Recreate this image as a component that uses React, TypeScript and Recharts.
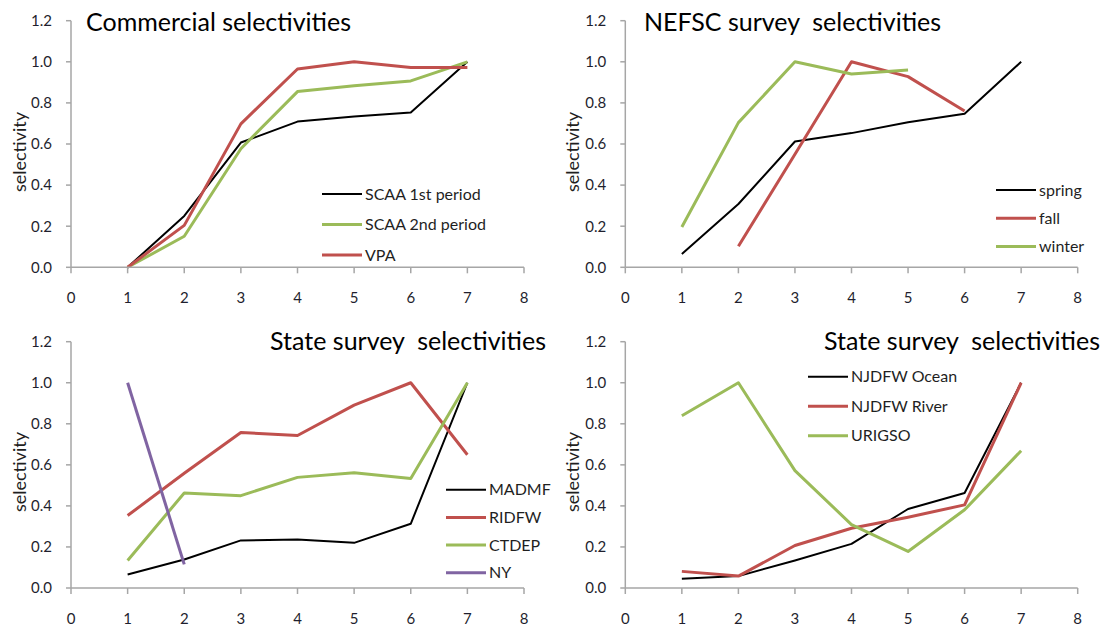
import { LineChart, Line, XAxis, YAxis } from "recharts";

// ages on the x axis and the tick sets shared by all four panels
const ages = [1, 2, 3, 4, 5, 6, 7];
const xTicks = [0, 1, 2, 3, 4, 5, 6, 7, 8];
const yTicks = [0, 0.2, 0.4, 0.6, 0.8, 1.0, 1.2];

// commercial fishery
const scaaFirst = [0, 0.25, 0.607, 0.709, 0.734, 0.753, 1.0];
const scaaSecond = [0, 0.151, 0.577, 0.855, 0.883, 0.907, 1.0];
const vpa = [0, 0.204, 0.698, 0.965, 1.0, 0.972, 0.972];

// NEFSC surveys
const spring = [0.065, 0.308, 0.612, 0.653, 0.706, 0.747, 1.0];
const fall = [null, 0.102, 0.55, 1.0, 0.928, 0.761, null];
const winter = [0.196, 0.704, 1.0, 0.941, 0.96, null, null];

// state surveys (north)
const madmf = [0.066, 0.139, 0.232, 0.236, 0.22, 0.313, 1.0];
const ridfw = [0.353, 0.559, 0.758, 0.743, 0.891, 1.0, 0.649];
const ctdep = [0.134, 0.463, 0.45, 0.539, 0.562, 0.533, 1.0];
const ny = [1.0, 0.115, null, null, null, null, null];

// state surveys (south)
const njOcean = [0.045, 0.058, 0.134, 0.215, 0.385, 0.463, 1.0];
const njRiver = [0.081, 0.058, 0.207, 0.291, 0.345, 0.405, 1.0];
const urigso = [0.839, 1.0, 0.572, 0.309, 0.178, 0.381, 0.669];

const BLACK = "#000000";
const RED = "#c0504d";
const GREEN = "#9bbb59";
const PURPLE = "#8064a2";
const AXIS = "#a6a6a6";
const FONT = "Lato, 'Open Sans', sans-serif";

type Series = { key: string; name: string; color: string; width: number; values: (number | null)[] };

type PanelSpec = {
  left: number;
  top: number;
  yWidth: number;
  marginTop: number;
  marginRight: number;
  xHeight: number;
  title: string;
  titleX: number;
  titleY: number;
  titleAnchor: "start" | "end";
  yLabelY: number;
  legendX: number;
  legendY: number;
  legendGap: number;
  series: Series[];
};

const panels: PanelSpec[] = [
  {
    left: 0, top: 0, yWidth: 71, marginTop: 20.7, marginRight: 29, xHeight: 46.7,
    title: "Commercial selectivities", titleX: 86, titleY: 30.7, titleAnchor: "start",
    yLabelY: 152, legendX: 322, legendY: 194, legendGap: 30.5,
    series: [
      { key: "scaa1", name: "SCAA 1st period", color: BLACK, width: 2, values: scaaFirst },
      { key: "scaa2", name: "SCAA 2nd period", color: GREEN, width: 3, values: scaaSecond },
      { key: "vpa", name: "VPA", color: RED, width: 3, values: vpa },
    ],
  },
  {
    left: 553, top: 0, yWidth: 72.3, marginTop: 20.7, marginRight: 28.3, xHeight: 46.7,
    title: "NEFSC survey  selectivities", titleX: 91, titleY: 30.5, titleAnchor: "start",
    yLabelY: 152, legendX: 443, legendY: 190, legendGap: 28.3,
    series: [
      { key: "spring", name: "spring", color: BLACK, width: 2, values: spring },
      { key: "fall", name: "fall", color: RED, width: 3, values: fall },
      { key: "winter", name: "winter", color: GREEN, width: 3, values: winter },
    ],
  },
  {
    left: 0, top: 314, yWidth: 71, marginTop: 27.7, marginRight: 29, xHeight: 40,
    title: "State survey  selectivities", titleX: 546, titleY: 35.7, titleAnchor: "end",
    yLabelY: 158, legendX: 446, legendY: 175.7, legendGap: 27.7,
    series: [
      { key: "madmf", name: "MADMF", color: BLACK, width: 2, values: madmf },
      { key: "ridfw", name: "RIDFW", color: RED, width: 3, values: ridfw },
      { key: "ctdep", name: "CTDEP", color: GREEN, width: 3, values: ctdep },
      { key: "ny", name: "NY", color: PURPLE, width: 3, values: ny },
    ],
  },
  {
    left: 553, top: 314, yWidth: 72.3, marginTop: 27.7, marginRight: 28.3, xHeight: 40,
    title: "State survey  selectivities", titleX: 547, titleY: 35.7, titleAnchor: "end",
    yLabelY: 158, legendX: 255, legendY: 62.7, legendGap: 29.5,
    series: [
      { key: "njOcean", name: "NJDFW Ocean", color: BLACK, width: 2, values: njOcean },
      { key: "njRiver", name: "NJDFW River", color: RED, width: 3, values: njRiver },
      { key: "urigso", name: "URIGSO", color: GREEN, width: 3, values: urigso },
    ],
  },
];

function Panel({ p }: { p: PanelSpec }) {
  const data = ages.map((age, i) => {
    const row: Record<string, number | null> = { age };
    p.series.forEach((s) => {
      row[s.key] = s.values[i];
    });
    return row;
  });

  return (
    <div style={{ position: "absolute", left: p.left, top: p.top, width: 553, height: 314 }}>
      <LineChart
        width={553}
        height={314}
        data={data}
        margin={{ top: p.marginTop, right: p.marginRight, bottom: 0, left: 0 }}
      >
        <XAxis
          dataKey="age"
          type="number"
          domain={[0, 8]}
          ticks={xTicks}
          interval={0}
          height={p.xHeight}
          stroke={AXIS}
          strokeWidth={1.5}
          tickSize={6}
          tickMargin={19}
          tick={{ fill: "#1f1f2e", fontSize: 15, fontFamily: FONT }}
        />
        <YAxis
          type="number"
          domain={[0, 1.2]}
          ticks={yTicks}
          interval={0}
          width={p.yWidth}
          stroke={AXIS}
          strokeWidth={1.5}
          tickSize={5}
          tickMargin={14}
          tickFormatter={(v: number) => v.toFixed(1)}
          tick={{ fill: "#1f1f2e", fontSize: 15, fontFamily: FONT }}
        />
        {p.series.map((s) => (
          <Line
            key={s.key}
            dataKey={s.key}
            name={s.name}
            stroke={s.color}
            strokeWidth={s.width}
            strokeLinejoin="round"
            dot={false}
            activeDot={false}
            isAnimationActive={false}
          />
        ))}
      </LineChart>
      <svg
        width={553}
        height={314}
        style={{ position: "absolute", left: 0, top: 0, pointerEvents: "none" }}
      >
        <text
          x={p.titleX}
          y={p.titleY}
          textAnchor={p.titleAnchor}
          fontFamily={FONT}
          fontSize={25}
          fill="#000"
          style={{ whiteSpace: "pre" }}
        >
          {p.title}
        </text>
        <text
          transform={`translate(26, ${p.yLabelY}) rotate(-90)`}
          textAnchor="middle"
          fontFamily={FONT}
          fontSize={18}
          fill="#1f1f1f"
        >
          selectivity
        </text>
        {p.series.map((s, i) => {
          const y = p.legendY + i * p.legendGap;
          return (
            <g key={s.key}>
              <line x1={p.legendX} x2={p.legendX + 40} y1={y} y2={y} stroke={s.color} strokeWidth={s.width} />
              <text x={p.legendX + 43} y={y + 5.5} fontFamily={FONT} fontSize={16} fill="#1f1f1f">
                {s.name}
              </text>
            </g>
          );
        })}
      </svg>
    </div>
  );
}

export default function App() {
  return (
    <div style={{ position: "absolute", left: 0, top: 0, width: 1106, height: 628, background: "#fff" }}>
      {panels.map((p, i) => (
        <Panel key={i} p={p} />
      ))}
    </div>
  );
}
